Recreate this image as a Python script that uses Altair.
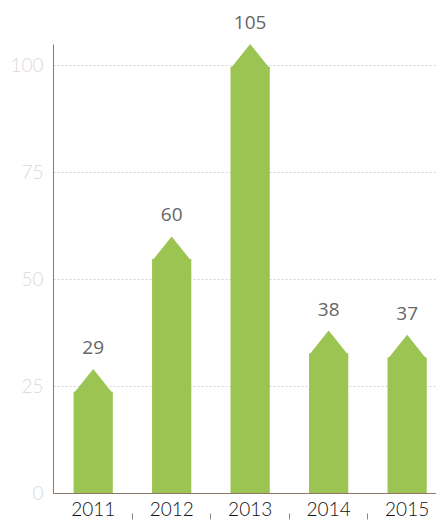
import altair as alt
import pandas as pd

years = ["2011", "2012", "2013", "2014", "2015"]
values = [29, 60, 105, 38, 37]
y_ticks = [0, 25, 50, 75, 100]

df = pd.DataFrame({"year": years, "value": values})

GREEN = "#9bc453"
AXIS = "#8b7866"

x_enc = alt.X(
    "year:N",
    sort=years,
    scale=alt.Scale(paddingInner=0.5, paddingOuter=0.19, align=0.69),
    axis=alt.Axis(
        title=None,
        labelAngle=0,
        labelFontSize=19,
        labelFont="Lato",
        labelFontWeight=300,
        labelColor="#111111",
        labelPadding=-19,
        domainColor=AXIS,
        tickSize=26,
        tickDash=[0, 20, 6, 100],
        bandPosition=-0.5,
        tickColor={"condition": {"test": "datum.value == '2011'", "value": "transparent"}, "value": "#888888"},
        grid=False,
    ),
)

y_scale = alt.Scale(domain=[0, 105], nice=False)
y_axis = alt.Axis(
    title=None,
    values=y_ticks,
    labelColor="#dadada",
    labelFontSize=19,
    labelFont="Lato",
    labelFontWeight=300,
    labelPadding=10,
    ticks=False,
    domainColor=AXIS,
    gridColor="#d4d4d4",
    gridDash=[2, 2],
)

base = alt.Chart(df).encode(x=x_enc)

body = base.transform_calculate(top="datum.value - 5.3").mark_bar(color=GREEN).encode(
    y=alt.Y("top:Q", scale=y_scale, axis=y_axis)
)

tri = base.mark_point(
    shape="M-1,1.25L0,0L1,1.25Z", filled=True, size=1537, color=GREEN, opacity=1, strokeWidth=0
).encode(y=alt.Y("value:Q", scale=y_scale, axis=y_axis))

text = base.mark_text(dy=-21, fontSize=19, font="Open Sans", color="#666666").encode(
    y=alt.Y("value:Q", scale=y_scale, axis=y_axis), text="value:Q"
)

chart = (
    alt.layer(body, tri, text)
    .properties(
        width=383,
        height=449,
        autosize=alt.AutoSizeParams(type="none"),
        padding={"left": 45, "top": 36, "right": 0, "bottom": 27},
    )
    .configure_view(stroke=None)
)

chart.save("out.html", embed_options={"renderer": "svg", "actions": False})
